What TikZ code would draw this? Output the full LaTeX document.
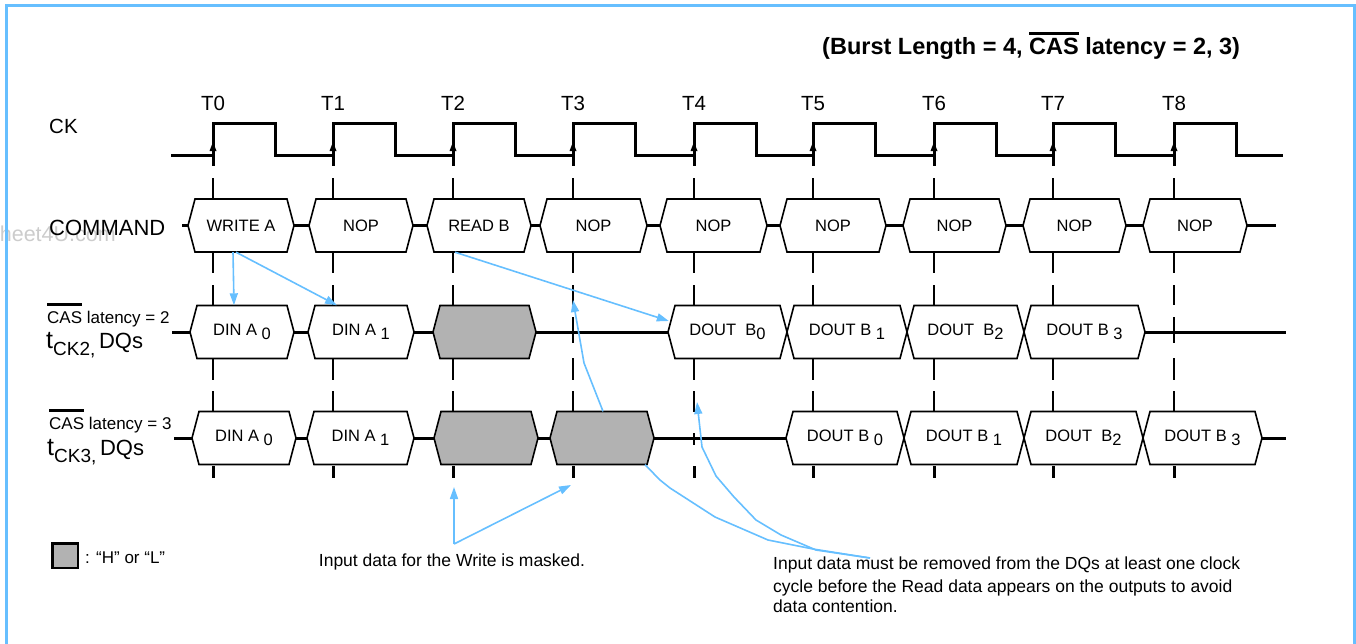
\documentclass[tikz,border=0pt]{standalone}
\usepackage{fontspec}
\setmainfont{Liberation Sans}
\usetikzlibrary{arrows.meta,calc}

\definecolor{notecol}{RGB}{102,191,255}
\definecolor{maskgray}{RGB}{178,178,178}

\newcommand{\olin}[2][0.12em]{\sbox0{#2}\rlap{\rule[\dimexpr\ht0+#1\relax]{\wd0}{2.4pt}}\usebox0}
\newcommand{\dsub}[1]{\raisebox{-0.22em}{#1}}
\newcommand{\hexbox}[6][white]{%
	\draw[boxline, fill=#1] (#3,#5) -- (#3+7,#5-26.5) -- (#4-7,#5-26.5) -- (#4,#5)
		-- (#4-7,#5+26.5) -- (#3+7,#5+26.5) -- cycle;
	\node[boxtext, minimum width=#4-#3, minimum height=53] (#2) at ({(#3+#4)/2},#5) {#6};}

\tikzset{
	clk/.style={line width=3pt},
	bus/.style={line width=3pt},
	tickline/.style={line width=1.5pt},
	boxline/.style={line width=1.6pt},
	boxtext/.style={inner sep=0pt, font=\fontsize{16.5}{18}\selectfont},
	note/.style={draw=notecol, line width=1.6pt, line join=round},
	notearrow/.style={note, -{Triangle[length=12pt,width=8pt]}},
	lbl/.style={inner sep=0pt}
}

\begin{document}
\begin{tikzpicture}[x=1pt,y=-1pt]
	\useasboundingbox (0,0) rectangle (1356,643);
	\node[lbl, anchor=base east, text=black!20, font=\fontsize{21.5}{22}\selectfont] (wm) at (116,241) {heet4U.com};
	\draw[notecol, line width=3pt] (6,660) -- (6,5.5) -- (1354.5,5.5) -- (1354.5,660);

	\node[lbl, anchor=base west, font=\bfseries\fontsize{23.5}{24}\selectfont] (title) at (822,54) {(Burst Length = 4, \olin{CAS} latency = 2, 3)};

	\node[lbl, anchor=base west, font=\fontsize{20.5}{22}\selectfont] (ck) at (49,133) {CK};
	\node[lbl, anchor=base west, font=\fontsize{22}{24}\selectfont] (cmd) at (49,235) {COMMAND};
	\node[lbl, anchor=base west, font=\fontsize{17}{20}\selectfont] (cas2) at (47,323) {\olin[0.32em]{CAS} latency = 2};
	\node[lbl, anchor=base west, font=\fontsize{22}{24}\selectfont] (dq2) at (46,348) {{\fontsize{25}{26}\selectfont t}\raisebox{-7pt}{\fontsize{19}{20}\selectfont CK2,}\,DQs};
	\node[lbl, anchor=base west, font=\fontsize{17}{20}\selectfont] (cas3) at (49,429) {\olin[0.32em]{CAS} latency = 3};
	\node[lbl, anchor=base west, font=\fontsize{22}{24}\selectfont] (dq3) at (47,455) {{\fontsize{25}{26}\selectfont t}\raisebox{-7pt}{\fontsize{19}{20}\selectfont CK3,}\,DQs};

	\draw[clk] (171,155) foreach \t in {213,333,453,573,694,813,934,1053,1174} { -- (\t,155) -- (\t,123) -- (\t+62,123) -- (\t+62,155) } -- (1283,155);
	\foreach \t/\n in {213/0,333/1,453/2,573/3,694/4,813/5,934/6,1053/7,1174/8} {
		\node[lbl, anchor=base, font=\fontsize{20.5}{22}\selectfont] (t\n) at (\t,110) {T\n};
		\draw[clk] (\t,155) -- (\t,166);
		\fill (\t-3.5,151) -- (\t+3.5,151) -- (\t,142) -- cycle;
		\foreach \a/\b in {178/199,252/273,285/305,358/380,391/412}
			\draw[tickline] (\t,\a) -- (\t,\b);
		\draw[clk] (\t,466) -- (\t,478);
	}
	\foreach \t/\a/\b in {573/317/343,1174/317/343,694/433/445}
		\draw[tickline] (\t,\a) -- (\t,\b);

	\draw[bus] (182,225.5) -- (1276,225.5);
	\draw[bus] (172,332) -- (1286,332);
	\draw[bus] (174,438) -- (1286,438);

	\hexbox{wra}{188}{294}{225.5}{WRITE A}
	\hexbox{nop1}{309}{413}{225.5}{NOP}
	\hexbox{rdb}{427}{531}{225.5}{READ B}
	\foreach \n/\xl/\xr in {3/540/647,4/660/767,5/780/886,6/903/1006,7/1023/1126,8/1143/1247} {
		\hexbox{nop\n}{\xl}{\xr}{225.5}{NOP}
	}

	\hexbox{dina0c2}{190}{294}{332}{DIN A \dsub{0}}
	\hexbox{dina1c2}{308}{414}{332}{DIN A \dsub{1}}
	\hexbox[maskgray]{maskc2}{433}{536}{332}{}
	\hexbox{doutb0c2}{668}{787}{332}{DOUT \ B\dsub{0}}
	\hexbox{doutb1c2}{787}{907}{332}{DOUT B \dsub{1}}
	\hexbox{doutb2c2}{907}{1024}{332}{DOUT \ B\dsub{2}}
	\hexbox{doutb3c2}{1024}{1145}{332}{DOUT B \dsub{3}}

	\hexbox{dina0c3}{192}{296}{438}{DIN A \dsub{0}}
	\hexbox{dina1c3}{307}{414}{438}{DIN A \dsub{1}}
	\hexbox[maskgray]{mask1c3}{434}{538}{438}{}
	\hexbox[maskgray]{mask2c3}{550}{654}{438}{}
	\hexbox{doutb0c3}{786}{904}{438}{DOUT B \dsub{0}}
	\hexbox{doutb1c3}{904}{1024}{438}{DOUT B \dsub{1}}
	\hexbox{doutb2c3}{1024}{1143}{438}{DOUT \ B\dsub{2}}
	\hexbox{doutb3c3}{1143}{1262}{438}{DOUT B \dsub{3}}

	\draw[notearrow] ($(wra.south)+(-8,0)$) -- ($(dina0c2.north)+(-8,0)$);
	\draw[notearrow] ($(wra.south)+(-5,0)$) -- ($(dina1c2.north)+(-24,0)$);
	\draw[notearrow] ($(rdb.south)+(-24,0)$) -- ($(doutb0c2.west)+(1,-11)$);
	\coordinate (t3up) at (573,300);
	\draw[notearrow] ($(mask2c3.north)+(1,0)$) -- (584,363) -- (t3up);

	\draw[line width=2.8pt, fill=maskgray] (52.5,543.5) rectangle (78,568);
	\node[lbl, anchor=base west, font=\fontsize{17}{20}\selectfont] (hl) at (85,563) {: “H” or “L”};

	\node[lbl, anchor=base, font=\fontsize{17.5}{20}\selectfont] (masked) at (452,566) {Input data for the Write is masked.};
	\coordinate (mk) at (454,544);
	\coordinate (t2low) at (454,487);
	\coordinate (t3low) at (571,485);
	\draw[notearrow] (mk) -- (t2low);
	\draw[notearrow] (mk) -- (t3low);

	\node[lbl, anchor=north west, align=left, font=\fontsize{17.5}{20}\selectfont] (remark) at (773,557) {Input data must be removed from the DQs at least one clock\\[3pt]cycle before the Read data appears on the outputs to avoid\\data contention.};
	\coordinate (rk) at (870,558);
	\coordinate (t4up) at (697,402);
	\draw[note] (rk) -- (813,549) -- (768,540) -- (715,517) -- (670,488) -- (660,480) -- ($(mask2c3.south)+(43,0)$);
	\draw[notearrow] (rk) -- (816,550) -- (781,535) -- (756,520) -- (734,497) -- (716,476) -- (702,447) -- (t4up);
\end{tikzpicture}
\end{document}
